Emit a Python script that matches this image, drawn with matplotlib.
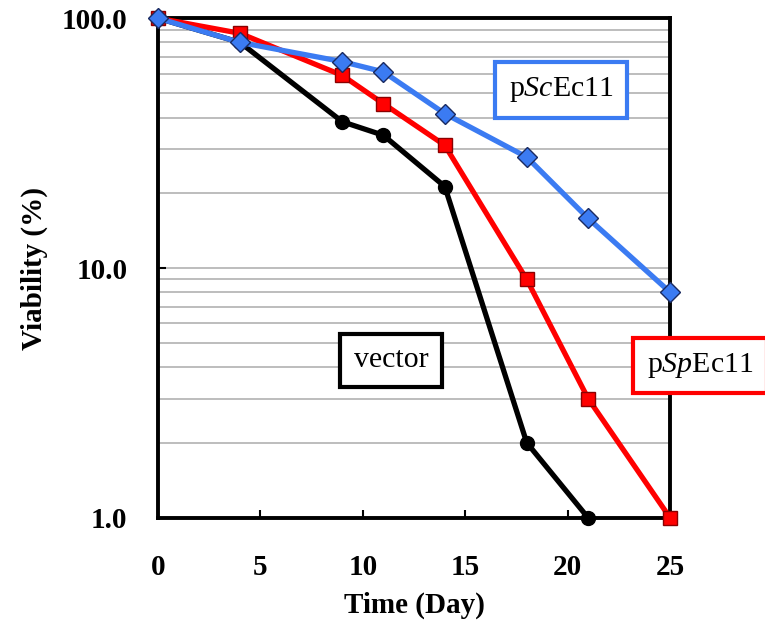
import numpy as np
import matplotlib
matplotlib.use('Agg')
import matplotlib.pyplot as plt
from matplotlib.ticker import FixedLocator, LogLocator, NullFormatter, FixedFormatter

# data
days = [0, 4, 9, 11, 14, 18, 21, 25]
vector_days = [0, 4, 9, 11, 14, 18, 21]
vector = [100, 80, 38.5, 34, 21.2, 2.0, 1.0]
sp_ecl1 = [100, 87, 59, 45.5, 31, 9.0, 3.0, 1.0]
sc_ecl1 = [100, 80, 67, 61, 41.5, 27.8, 15.8, 8.0]

ytick_vals = [1, 10, 100]
ytick_labels = ['1.0', '10.0', '100.0']
xtick_vals = [0, 5, 10, 15, 20, 25]

plt.rcParams['font.family'] = ['Liberation Serif', 'DejaVu Serif']
plt.rcParams['mathtext.fontset'] = 'custom'
plt.rcParams['mathtext.rm'] = 'Liberation Serif'
plt.rcParams['mathtext.it'] = 'Liberation Serif:italic'

fig = plt.figure(figsize=(7.65, 6.27), dpi=100)
ax = fig.add_axes([0.2065, 0.174, 0.6695, 0.797])

ax.plot(vector_days, vector, '-o', color='black', lw=3.8, ms=10,
        mfc='black', mec='black', clip_on=False, zorder=3)
ax.plot(days, sp_ecl1, '-s', color='#ff0000', lw=3.8, ms=10,
        mfc='#ff0000', mec='#8b0000', mew=1, clip_on=False, zorder=4)
ax.plot(days, sc_ecl1, '-D', color='#3b7bf2', lw=3.8, ms=10,
        mfc='#3b7bf2', mec='#1a2a60', mew=1, clip_on=False, zorder=5)

ax.set_yscale('log')
ax.set_ylim(1, 100)
ax.set_xlim(0, 25)

ax.yaxis.set_major_locator(FixedLocator(ytick_vals))
ax.yaxis.set_major_formatter(FixedFormatter(ytick_labels))
ax.yaxis.set_minor_locator(LogLocator(base=10, subs=np.arange(2, 10)))
ax.yaxis.set_minor_formatter(NullFormatter())
ax.xaxis.set_major_locator(FixedLocator(xtick_vals))

ax.grid(True, which='both', axis='y', color='#bdbdbd', lw=1.4)
ax.set_axisbelow(True)

ax.tick_params(axis='x', direction='in', length=6, width=1.5, pad=26, labelsize=21)
ax.tick_params(axis='y', which='major', direction='in', length=6, width=1.5,
               pad=22, labelsize=21)
ax.tick_params(axis='y', which='minor', length=0)
for lab in ax.get_xticklabels() + ax.get_yticklabels():
    lab.set_fontweight('bold')

for sp in ax.spines.values():
    sp.set_linewidth(2.8)
    sp.set_color('black')

ax.set_xlabel('Time (Day)', fontsize=21, fontweight='bold', labelpad=8)
ax.set_ylabel('Viability (%)', fontsize=21, fontweight='bold', labelpad=10)

ax.text(0.787, 0.857, r'p$\it{Sc}$Ec11', transform=ax.transAxes, fontsize=21.5,
        ha='center', va='center', zorder=6,
        bbox=dict(boxstyle='square,pad=0.45', fc='white', ec='#3b7bf2', lw=3))
ax.text(0.455, 0.315, 'vector', transform=ax.transAxes, fontsize=21.5,
        ha='center', va='center', zorder=6,
        bbox=dict(boxstyle='square,pad=0.45', fc='white', ec='black', lw=3))
fig.text(0.915, 0.417, r'p$\it{Sp}$Ec11', fontsize=21.5,
         ha='center', va='center', zorder=6,
         bbox=dict(boxstyle='square,pad=0.45', fc='white', ec='#ff0000', lw=3))

fig.savefig('out.png', dpi=100)
